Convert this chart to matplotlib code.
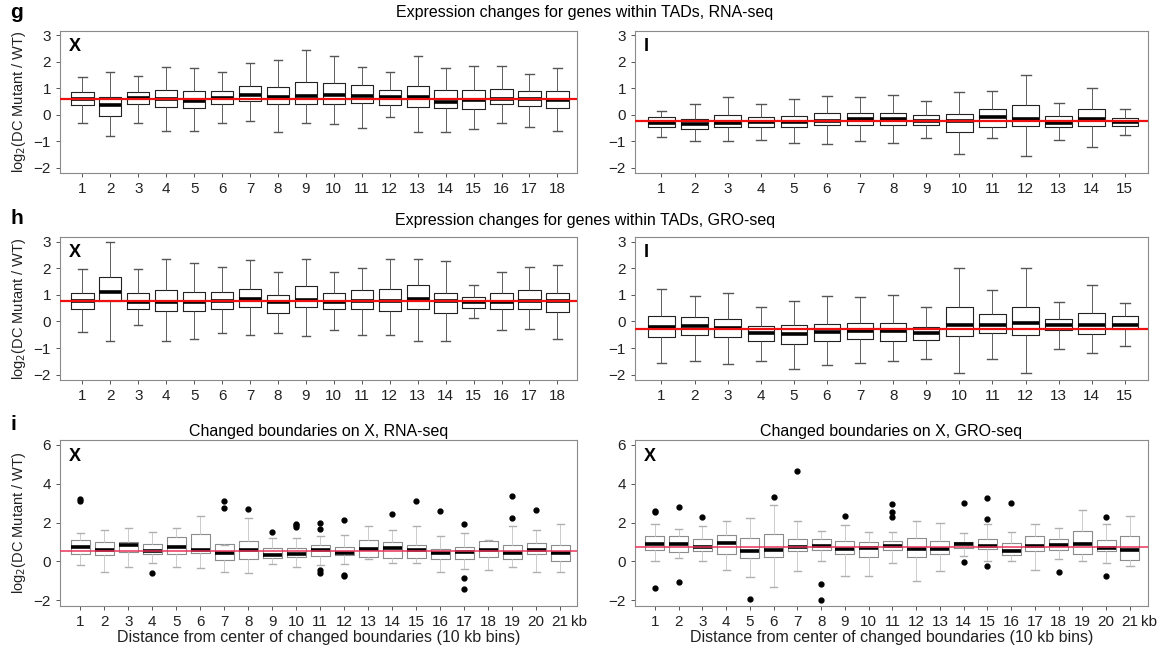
import matplotlib.pyplot as plt

plt.rcParams['font.family'] = ['Liberation Sans', 'DejaVu Sans']

# ---- panel g: RNA-seq, genes within TADs ----
g_x_bins = list(range(1, 19))
g_x_lo = [-0.3, -0.8, -0.3, -0.6, -0.6, -0.3, -0.25, -0.65, -0.3, -0.35, -0.5, -0.1, -0.65, -0.65, -0.55, -0.3, -0.45, -0.6]
g_x_q1 = [0.35, -0.05, 0.4, 0.28, 0.25, 0.4, 0.5, 0.42, 0.4, 0.4, 0.45, 0.38, 0.3, 0.25, 0.22, 0.4, 0.32, 0.25]
g_x_med = [0.6, 0.35, 0.62, 0.58, 0.52, 0.62, 0.75, 0.68, 0.72, 0.75, 0.7, 0.65, 0.65, 0.48, 0.55, 0.6, 0.6, 0.55]
g_x_q3 = [0.85, 0.65, 0.85, 0.95, 0.9, 0.9, 1.1, 1.05, 1.22, 1.2, 1.12, 0.95, 1.1, 0.92, 0.92, 0.98, 0.88, 0.88]
g_x_hi = [1.42, 1.6, 1.45, 1.8, 1.78, 1.6, 1.95, 2.05, 2.45, 2.2, 1.8, 1.62, 2.2, 1.78, 1.82, 1.82, 1.55, 1.78]
g_x_ref = 0.6

g_a_bins = list(range(1, 16))
g_a_lo = [-0.85, -0.98, -1.0, -0.95, -1.08, -1.1, -0.98, -1.05, -0.88, -1.5, -0.88, -1.55, -0.95, -1.22, -0.78]
g_a_q1 = [-0.45, -0.55, -0.48, -0.45, -0.48, -0.4, -0.38, -0.38, -0.38, -0.65, -0.45, -0.42, -0.45, -0.42, -0.42]
g_a_med = [-0.3, -0.35, -0.3, -0.28, -0.28, -0.22, -0.18, -0.15, -0.25, -0.25, -0.08, -0.15, -0.3, -0.18, -0.28]
g_a_q3 = [-0.1, -0.15, -0.02, -0.08, -0.05, 0.08, 0.05, 0.08, -0.02, 0.02, 0.22, 0.38, -0.05, 0.2, -0.12]
g_a_hi = [0.15, 0.4, 0.65, 0.42, 0.6, 0.72, 0.67, 0.75, 0.5, 0.85, 0.9, 1.5, 0.45, 1.0, 0.22]
g_a_ref = -0.22

# ---- panel h: GRO-seq, genes within TADs ----
h_x_bins = list(range(1, 19))
h_x_lo = [-0.38, -0.75, -0.15, -0.75, -0.65, -0.45, -0.5, -0.42, -0.55, -0.32, -0.52, -0.52, -0.75, -0.75, 0.12, -0.32, -0.3, -0.65]
h_x_q1 = [0.45, 0.75, 0.45, 0.4, 0.4, 0.45, 0.55, 0.32, 0.55, 0.45, 0.45, 0.38, 0.48, 0.32, 0.52, 0.45, 0.45, 0.35]
h_x_med = [0.75, 1.12, 0.72, 0.72, 0.72, 0.78, 0.85, 0.72, 0.82, 0.72, 0.78, 0.75, 0.85, 0.75, 0.72, 0.72, 0.78, 0.75]
h_x_q3 = [1.08, 1.65, 1.05, 1.18, 1.12, 1.1, 1.22, 0.98, 1.32, 1.08, 1.18, 1.2, 1.35, 1.08, 0.92, 1.05, 1.18, 1.08]
h_x_hi = [1.95, 3.0, 1.95, 2.35, 2.2, 2.05, 2.3, 1.85, 2.35, 1.85, 2.02, 2.35, 2.35, 2.25, 1.38, 1.85, 2.05, 2.1]
h_x_ref = 0.78

h_a_bins = list(range(1, 16))
h_a_lo = [-1.55, -1.5, -1.6, -1.48, -1.78, -1.65, -1.58, -1.5, -1.4, -1.92, -1.4, -1.95, -1.05, -1.2, -0.92]
h_a_q1 = [-0.58, -0.52, -0.58, -0.72, -0.85, -0.72, -0.65, -0.72, -0.68, -0.55, -0.45, -0.52, -0.32, -0.48, -0.3]
h_a_med = [-0.22, -0.18, -0.25, -0.42, -0.48, -0.38, -0.35, -0.35, -0.42, -0.12, -0.15, -0.05, -0.15, -0.12, -0.15]
h_a_q3 = [0.2, 0.15, 0.1, -0.18, -0.12, -0.08, -0.05, -0.05, -0.2, 0.55, 0.28, 0.55, 0.1, 0.3, 0.2]
h_a_hi = [1.2, 0.95, 1.08, 0.55, 0.75, 0.95, 0.9, 1.0, 0.55, 2.0, 1.18, 2.0, 0.72, 1.38, 0.68]
h_a_ref = -0.3

# ---- panel i: changed boundaries on X ----
i_bins = list(range(1, 22))
i_rna_lo = [-0.2, -0.55, -0.28, -0.1, -0.3, -0.33, -0.55, -0.6, -0.16, -0.28, -0.2, -0.12, 0.1, -0.1, -0.1, -0.55, -0.4, -0.47, -0.3, -0.55, -0.55]
i_rna_q1 = [0.36, 0.33, 0.49, 0.36, 0.36, 0.45, 0.07, 0.14, 0.19, 0.24, 0.3, 0.33, 0.24, 0.17, 0.19, 0.14, 0.1, 0.24, 0.14, 0.36, 0.0]
i_rna_med = [0.76, 0.57, 0.85, 0.52, 0.75, 0.59, 0.45, 0.6, 0.31, 0.36, 0.59, 0.45, 0.66, 0.71, 0.57, 0.43, 0.49, 0.57, 0.45, 0.57, 0.43]
i_rna_q3 = [1.09, 1.0, 1.0, 0.87, 1.27, 1.42, 0.88, 1.06, 0.7, 0.7, 0.83, 0.75, 1.09, 1.0, 0.85, 0.62, 0.76, 1.06, 0.85, 0.97, 0.85]
i_rna_hi = [1.44, 1.63, 1.72, 1.5, 1.72, 2.35, 0.85, 2.25, 1.18, 1.18, 1.3, 1.35, 1.8, 1.63, 1.8, 1.32, 1.44, 1.1, 1.8, 1.63, 1.9]
i_rna_out = {1: [3.1, 3.2], 4: [-0.6], 7: [2.75, 3.1], 8: [2.72], 9: [1.5],
             10: [1.75, 1.85, 1.9], 11: [1.65, 1.96, -0.45, -0.6],
             12: [2.15, -0.68, -0.76], 14: [2.45], 15: [3.09], 16: [2.57],
             17: [1.93, -0.85, -1.4], 19: [2.24, 3.35], 20: [2.64]}
i_rna_ref = 0.53

i_gro_lo = [0.0, 0.17, 0.0, -0.43, -0.83, -1.34, -0.52, 0.0, -0.74, -0.78, -0.09, -1.03, -0.52, 0.3, 0.0, 0.0, -0.43, 0.14, 0.0, -0.09, -0.26]
i_gro_q1 = [0.6, 0.48, 0.52, 0.38, 0.17, 0.22, 0.55, 0.6, 0.38, 0.22, 0.6, 0.22, 0.38, 0.69, 0.64, 0.31, 0.52, 0.57, 0.38, 0.52, 0.09]
i_gro_med = [0.88, 0.88, 0.72, 0.95, 0.52, 0.57, 0.72, 0.81, 0.66, 0.69, 0.81, 0.66, 0.66, 0.9, 0.81, 0.52, 0.81, 0.84, 0.9, 0.69, 0.6]
i_gro_q3 = [1.33, 1.33, 1.16, 1.38, 1.2, 1.41, 1.16, 1.16, 1.03, 1.0, 1.07, 1.21, 1.07, 1.0, 1.16, 0.95, 1.3, 1.16, 1.55, 1.12, 1.3]
i_gro_hi = [1.93, 1.69, 1.8, 2.1, 2.24, 2.9, 2.1, 1.55, 1.86, 1.52, 1.5, 2.1, 2.0, 1.45, 1.9, 1.5, 1.93, 1.7, 2.67, 1.9, 2.33]
i_gro_out = {1: [2.53, 2.6, -1.38], 2: [2.81, -1.07], 3: [2.26], 5: [-1.95],
             6: [3.33], 7: [4.66], 8: [-1.19, -1.98], 9: [2.31],
             11: [2.28, 2.53, 2.97], 14: [2.98, -0.05], 15: [3.28, 2.19, -0.22],
             16: [2.98], 18: [-0.55], 20: [2.28, -0.74]}
i_gro_ref = 0.75

ylab = r'log$_2$(DC Mutant / WT)'
xlab = 'Distance from center of changed boundaries (10 kb bins)'


def draw_panel(ax, bins, lo, q1, med, q3, hi, ref, tag, yticks, ylim,
               fliers=None, faint=False):
    stats = []
    for i, b in enumerate(bins):
        stats.append(dict(med=med[i], q1=q1[i], q3=q3[i], whislo=lo[i],
                          whishi=hi[i],
                          fliers=(fliers or {}).get(b, [])))
    edge = '#8c8c8c' if faint else '#222222'
    whisk = '#c4c4c4' if faint else '#444444'
    ax.bxp(stats, positions=bins, widths=0.8, capwidths=0.3,
           boxprops=dict(color=edge, lw=0.8),
           whiskerprops=dict(color=whisk, lw=0.6),
           capprops=dict(color='#555555' if not faint else '#b0b0b0', lw=1.0),
           medianprops=dict(color='black', lw=2.6, solid_capstyle='butt'),
           flierprops=dict(marker='o', markersize=3.5, markerfacecolor='black',
                           markeredgecolor='black'),
           showfliers=True)
    ax.axhline(ref, color='#e8345a' if faint else '#ee1111',
               lw=1.1 if faint else 1.6, zorder=5)
    ax.set_ylim(*ylim)
    ax.set_yticks(yticks)
    ax.set_xticks(bins)
    ax.set_xticklabels([str(b) for b in bins])
    ax.tick_params(axis='both', labelsize=11, colors='#555555',
                   labelcolor='#222222', length=3, width=0.7)
    for s in ax.spines.values():
        s.set_color('#8a8a8a')
        s.set_linewidth(0.8)
    ax.text(0.018, 0.95, tag, transform=ax.transAxes, fontsize=13,
            fontweight='bold', va='top', ha='left')


fig = plt.figure(figsize=(11.7, 6.55), dpi=100)
W, H = 1170.0, 655.0


def add_axes(x0, x1, y0, y1):
    return fig.add_axes([x0 / W, 1 - y1 / H, (x1 - x0) / W, (y1 - y0) / H])


ax_gx = add_axes(60, 577, 31, 173)
ax_ga = add_axes(635, 1148, 31, 173)
ax_hx = add_axes(60, 577, 237, 380)
ax_ha = add_axes(635, 1148, 237, 380)
ax_ix = add_axes(60, 577, 440, 606)
ax_ia = add_axes(635, 1148, 440, 606)

yt_small = [3, 2, 1, 0, -1, -2]
draw_panel(ax_gx, g_x_bins, g_x_lo, g_x_q1, g_x_med, g_x_q3, g_x_hi, g_x_ref,
           'X', yt_small, (-2.2, 3.16))
ax_gx.set_xlim(0.2, 18.7)
draw_panel(ax_ga, g_a_bins, g_a_lo, g_a_q1, g_a_med, g_a_q3, g_a_hi, g_a_ref,
           'I', yt_small, (-2.2, 3.16))
ax_ga.set_xlim(0.2, 15.7)
draw_panel(ax_hx, h_x_bins, h_x_lo, h_x_q1, h_x_med, h_x_q3, h_x_hi, h_x_ref,
           'X', yt_small, (-2.2, 3.17))
ax_hx.set_xlim(0.2, 18.7)
draw_panel(ax_ha, h_a_bins, h_a_lo, h_a_q1, h_a_med, h_a_q3, h_a_hi, h_a_ref,
           'I', yt_small, (-2.2, 3.17))
ax_ha.set_xlim(0.2, 15.7)

yt_big = [6, 4, 2, 0, -2]
draw_panel(ax_ix, i_bins, i_rna_lo, i_rna_q1, i_rna_med, i_rna_q3, i_rna_hi,
           i_rna_ref, 'X', yt_big, (-2.3, 6.25), fliers=i_rna_out, faint=True)
ax_ix.set_xlim(0.15, 21.7)
draw_panel(ax_ia, i_bins, i_gro_lo, i_gro_q1, i_gro_med, i_gro_q3, i_gro_hi,
           i_gro_ref, 'X', yt_big, (-2.3, 6.25), fliers=i_gro_out, faint=True)
ax_ia.set_xlim(0.16, 21.76)

for ax in (ax_gx, ax_hx, ax_ix):
    ax.set_ylabel(ylab, fontsize=10.5, color='#222222', labelpad=4)

for ax in (ax_ix, ax_ia):
    ax.set_xlabel(xlab, fontsize=11.5, color='#222222', labelpad=1)
    ax.annotate('kb', xy=(21, 0), xycoords=('data', 'axes fraction'),
                xytext=(8, -6.5), textcoords='offset points',
                ha='left', va='top', fontsize=11, color='#222222',
                annotation_clip=False)

ax_ix.set_title('Changed boundaries on X, RNA-seq', fontsize=11.5, pad=3)
ax_ia.set_title('Changed boundaries on X, GRO-seq', fontsize=11.5, pad=3)

fig.text(585 / W, 1 - 13 / H, 'Expression changes for genes within TADs, RNA-seq',
         ha='center', va='center', fontsize=11.5)
fig.text(585 / W, 1 - 221 / H, 'Expression changes for genes within TADs, GRO-seq',
         ha='center', va='center', fontsize=11.5)
for lbl, y in (('g', 12), ('h', 218), ('i', 425)):
    fig.text(10 / W, 1 - y / H, lbl, ha='left', va='center', fontsize=15,
             fontweight='bold')

fig.savefig('out.png', dpi=100, facecolor='white')
